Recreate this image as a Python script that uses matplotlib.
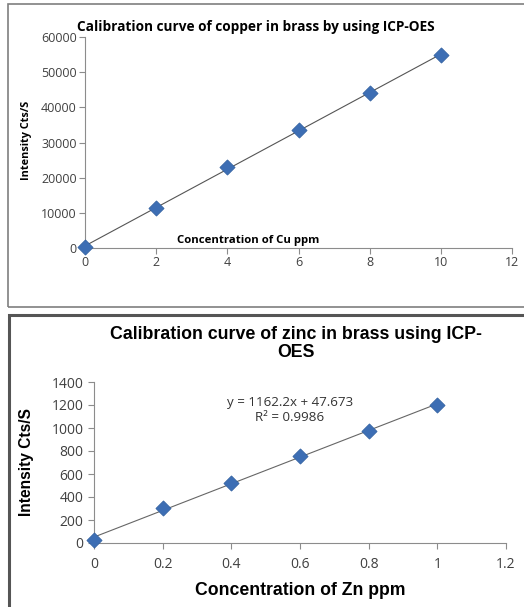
import numpy as np
import matplotlib
matplotlib.use("Agg")
import matplotlib.pyplot as plt
from matplotlib.patches import Rectangle

# Data
cu_conc = [0, 2, 4, 6, 8, 10]
cu_intensity = [300, 11400, 22950, 33450, 44100, 54900]
zn_conc = [0, 0.2, 0.4, 0.6, 0.8, 1.0]
zn_intensity = [29, 301, 525, 754, 977, 1200]

cu_xticks = [0, 2, 4, 6, 8, 10, 12]
cu_yticks = [0, 10000, 20000, 30000, 40000, 50000, 60000]
zn_xticks = [0, 0.2, 0.4, 0.6, 0.8, 1, 1.2]
zn_xticklabels = ["0", "0.2", "0.4", "0.6", "0.8", "1", "1.2"]
zn_yticks = [0, 200, 400, 600, 800, 1000, 1200, 1400]

W, H = 524, 607
fig = plt.figure(figsize=(W / 100, H / 100), dpi=100)

def px_axes(l, t, r, b):
    return fig.add_axes([l / W, 1 - b / H, (r - l) / W, (b - t) / H])

# Panel frames
fig.patches.append(Rectangle((7.5 / W, 1 - 307 / H), (530 - 7.5) / W, (307 - 3.5) / H,
                             transform=fig.transFigure, fill=False,
                             edgecolor="#7f7f7f", linewidth=1.2))
fig.patches.append(Rectangle((8.5 / W, 1 - 620 / H), (530 - 8.5) / W, (620 - 315) / H,
                             transform=fig.transFigure, fill=False,
                             edgecolor="#555555", linewidth=2.2))

marker_color = "#3d6eb4"
tick_font = "Open Sans"

# Top chart (copper)
ax1 = px_axes(85, 37, 512, 248)
ax1.set_xlim(0, 12)
ax1.set_ylim(0, 60000)
c1 = np.polyfit(cu_conc, cu_intensity, 1)
fx = np.array([min(cu_conc), max(cu_conc)])
ax1.plot(fx, np.polyval(c1, fx), color="#555555", linewidth=0.8, zorder=2)
ax1.scatter(cu_conc, cu_intensity, marker="D", s=60, color=marker_color, zorder=3,
            edgecolors="#2f5f9f", linewidths=0.5, clip_on=False)
for s in ["top", "right"]:
    ax1.spines[s].set_visible(False)
ax1.spines["left"].set_color("#8c8c8c")
ax1.spines["bottom"].set_color("#8c8c8c")
ax1.set_xticks(cu_xticks)
ax1.set_yticks(cu_yticks)
ax1.set_yticklabels([str(v) for v in cu_yticks])
ax1.tick_params(axis="both", colors="#8c8c8c", labelcolor="#404040", labelsize=9,
                length=4, width=0.8, pad=2)
for lab in ax1.get_xticklabels() + ax1.get_yticklabels():
    lab.set_family(tick_font)
ax1.set_title("Calibration curve of copper in brass by using ICP-OES",
              fontsize=9.8, fontweight="bold", family="Open Sans", pad=4, x=0.40)
ax1.text(4.58, 700, "Concentration of Cu ppm", fontsize=8.2, fontweight="bold",
         family="Open Sans", ha="center", va="bottom")
ax1.set_ylabel("Intensity Cts/S", fontsize=7.8, fontweight="bold", family="Open Sans")
ax1.yaxis.set_label_coords(-0.125, 0.51)

# Bottom chart (zinc)
ax2 = px_axes(94, 382, 506, 543)
ax2.set_xlim(0, 1.2)
ax2.set_ylim(0, 1400)
c2 = np.polyfit(zn_conc, zn_intensity, 1)
fx2 = np.array([min(zn_conc), max(zn_conc)])
ax2.plot(fx2, np.polyval(c2, fx2), color="#666666", linewidth=0.8, zorder=2)
ax2.scatter(zn_conc, zn_intensity, marker="D", s=60, color=marker_color, zorder=3,
            edgecolors="#2f5f9f", linewidths=0.5, clip_on=False)
for s in ["top", "right"]:
    ax2.spines[s].set_visible(False)
ax2.spines["left"].set_color("#8c8c8c")
ax2.spines["bottom"].set_color("#8c8c8c")
ax2.set_xticks(zn_xticks)
ax2.set_xticklabels(zn_xticklabels)
ax2.set_yticks(zn_yticks)
ax2.tick_params(axis="both", colors="#8c8c8c", labelcolor="#404040", labelsize=10,
                length=4, width=0.8)
ax2.tick_params(axis="x", pad=6)
for lab in ax2.get_xticklabels() + ax2.get_yticklabels():
    lab.set_family(tick_font)
ax2.set_title("Calibration curve of zinc in brass using ICP-\nOES",
              fontsize=12.8, fontweight="bold", family="Liberation Sans",
              pad=18, linespacing=1.05, x=0.49)
ax2.set_xlabel("Concentration of Zn ppm", fontsize=12.7, fontweight="bold",
               family="Liberation Sans", labelpad=7)
ax2.set_ylabel("Intensity Cts/S", fontsize=11.2, fontweight="bold",
               family="Liberation Sans")
ax2.yaxis.set_label_coords(-0.146, 0.5)
ax2.text(0.571, 1160, "y = 1162.2x + 47.673\nR² = 0.9986", fontsize=9.6,
         family="Open Sans", ha="center", va="center", color="#333333",
         linespacing=1.2)

fig.savefig("out.png", dpi=100)
